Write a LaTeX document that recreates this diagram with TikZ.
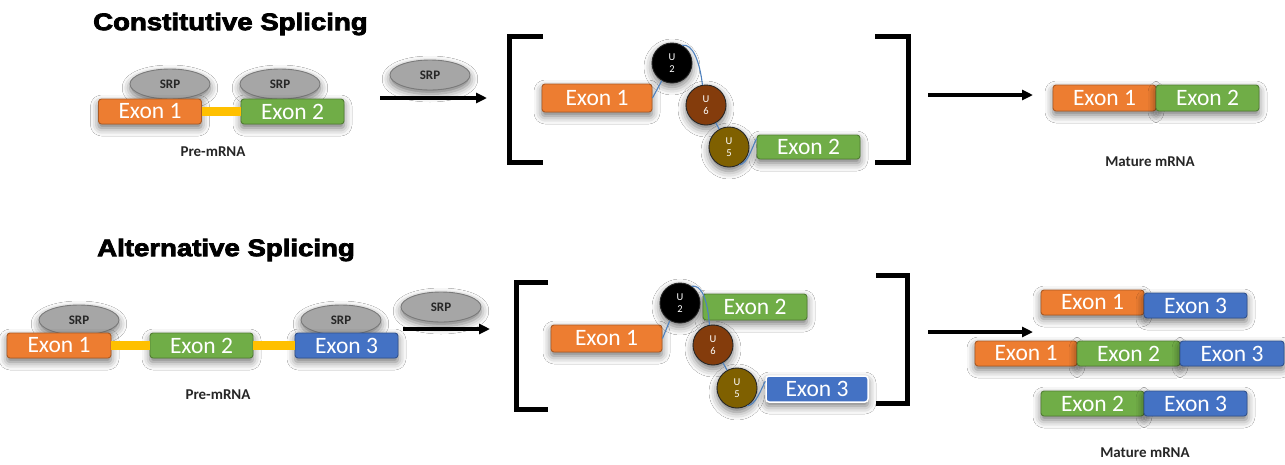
\documentclass[tikz,border=0pt]{standalone}
\usepackage{graphicx}
\usepackage{fontspec}
\setmainfont{Carlito}
\newfontfamily\titlefont{Liberation Sans Bold}[FakeBold=3]
\usetikzlibrary{shapes.geometric,arrows.meta,shadows.blur}
\definecolor{exorange}{HTML}{ED7D31}
\definecolor{exgreen}{HTML}{70AD47}
\definecolor{exblue}{HTML}{4472C4}
\definecolor{exyellow}{HTML}{FFC000}
\definecolor{srpfill}{HTML}{A6A6A6}
\definecolor{srpborder}{HTML}{7A7A7A}
\definecolor{usixbrown}{HTML}{843C0C}
\definecolor{ufiveolive}{HTML}{7F6000}
\definecolor{linkblue}{HTML}{4F81BD}
\tikzset{
  softshadow/.style={blur shadow={shadow xshift=0pt,shadow yshift=-4pt,shadow blur radius=8pt,shadow opacity=55}},
  exon/.style={rectangle, rounded corners=3pt, draw=#1!72!black, fill=#1, line width=0.9pt,
    text=white, font=\fontsize{23.5}{23.5}\selectfont, inner sep=0pt,
    minimum height=25pt, minimum width=103pt, softshadow},
  srp/.style={ellipse, draw=srpborder, fill=srpfill, line width=0.9pt, minimum width=80pt,
    minimum height=30pt, inner sep=0pt, text=black!85, font=\bfseries\fontsize{13}{13}\selectfont, softshadow},
  snrna/.style={circle, draw=black!85, fill=#1, line width=0.9pt, minimum size=40pt, inner sep=0pt,
    text=white, font=\fontsize{10.5}{12}\selectfont, align=center, softshadow},
  ylink/.style={draw=exyellow, line width=9pt},
  blink/.style={draw=linkblue, line width=1.1pt},
  bracketline/.style={draw=black, line width=5pt},
  arr/.style={draw=black, line width=3.2pt, -{Triangle[length=11pt,width=10pt]}},
  rnalabel/.style={font=\bfseries\fontsize{15}{15}\selectfont, text=black!85},
  headline/.style={font=\titlefont\fontsize{24}{24}\selectfont, text=black, anchor=west, inner sep=0pt}
}
\begin{document}
\begin{tikzpicture}[x=1pt,y=-1pt]
\useasboundingbox (0,0) rectangle (1285,464);
\fill[white] (0,0) rectangle (1285,464);

% ---------- titles ----------
\node[headline] (t1) at (93,24) {\scalebox{1.15}[1]{Constitutive Splicing}};
\node[headline] (t2) at (97,250) {\scalebox{1.15}[1]{Alternative Splicing}};

% ---------- constitutive: pre-mRNA ----------
\node[srp] (s1) at (170,84) {SRP};
\node[srp] (s2) at (280,84) {SRP};
\node[exon=exorange] (e1) at (150,111.5) {Exon 1};
\node[exon=exgreen] (e2) at (292.5,111.5) {Exon 2};
\draw[ylink] (e1.east) -- (e2.west);
\node[rnalabel] (pre1) at (213,152) {Pre-mRNA};

\node[srp] (s3) at (430,75) {SRP};
\coordinate (a1s) at (380,98);
\coordinate (a1e) at (487,98);
\draw[arr] (a1s) -- (a1e);

% brackets top
\draw[bracketline] (543,36.5) -- (509.5,36.5) -- (509.5,162.5) -- (543,162.5);
\draw[bracketline] (875,36) -- (908,36) -- (908,162.5) -- (875,162.5);

% spliceosome top
\node[exon=exorange, minimum width=110pt, minimum height=28pt] (c1e1) at (597,98) {Exon 1};
\node[snrna=black] (c1u2) at (672,63) {U\\2};
\node[snrna=usixbrown] (c1u6) at (706,105) {U\\6};
\node[snrna=ufiveolive] (c1u5) at (729,147) {U\\5};
\node[exon=exgreen, minimum height=24pt] (c1e2) at (808.5,147) {Exon 2};
\draw[blink] (c1e1.east) -- (c1u2.240);
\draw[blink] (c1u2.60) .. controls +(10,-2) and +(-3,-25) .. (c1u6.100);
\draw[blink] (c1u6) -- (c1u5);
\draw[blink] (c1u5.-60) .. controls +(8,0) and +(-4,8) .. ([yshift=-4pt]c1e2.north west);

\coordinate (a2s) at (928,95);
\coordinate (a2e) at (1033,95);
\draw[arr] (a2s) -- (a2e);

% mature top
\node[exon=exorange, minimum height=26pt] (m1) at (1104.5,98) {Exon 1};
\node[exon=exgreen, minimum height=26pt] (m2) at (1207.5,98) {Exon 2};
\node[rnalabel] (mat1) at (1150,162) {Mature mRNA};

% ---------- alternative: pre-mRNA ----------
\node[srp] (s4) at (79,320) {SRP};
\node[srp] (s5) at (341,320) {SRP};
\node[exon=exorange, minimum width=104pt] (f1) at (59,345.5) {Exon 1};
\node[exon=exgreen] (f2) at (201.5,345.5) {Exon 2};
\node[exon=exblue] (f3) at (346.5,345.5) {Exon 3};
\draw[ylink] (f1.east) -- (f2.west);
\draw[ylink] (f2.east) -- (f3.west);
\node[rnalabel] (pre2) at (218,395) {Pre-mRNA};

\node[srp] (s6) at (441,307) {SRP};
\coordinate (b1s) at (403,329);
\coordinate (b1e) at (490,329);
\draw[arr] (b1s) -- (b1e);

% brackets bottom
\draw[bracketline] (548,282.5) -- (516,282.5) -- (516,409.5) -- (548,409.5);
\draw[bracketline] (876,275) -- (907,275) -- (907,403) -- (876,403);

% spliceosome bottom
\node[exon=exorange, minimum width=111pt, minimum height=27pt] (c2e1) at (606.5,338.5) {Exon 1};
\node[snrna=black] (c2u2) at (680,303) {U\\2};
\node[exon=exgreen, minimum width=104pt, minimum height=26pt] (c2e2) at (755,307) {Exon 2};
\node[snrna=usixbrown] (c2u6) at (713,345) {U\\6};
\node[snrna=ufiveolive] (c2u5) at (737,388) {U\\5};
\node[exon=exblue, draw=white, line width=1.5pt, minimum width=102pt, minimum height=26pt] (c2e3) at (817,389) {Exon 3};
\draw[blink] (c2e1.east) -- (c2u2.240);
\draw[blink] (c2u2.55) .. controls +(10,-2) and +(-2,-25) .. (c2u6.100);
\draw[blink] (c2u6) -- (c2u5);
\draw[blink] (c2u5.-60) .. controls +(8,0) and +(-4,8) .. ([yshift=-6pt]c2e3.north west);

\coordinate (b2s) at (928,332);
\coordinate (b2e) at (1033,332);
\draw[arr] (b2s) -- (b2e);

% mature bottom
\node[exon=exorange] (n1) at (1092.5,302.5) {Exon 1};
\node[exon=exblue] (n2) at (1195.5,305.5) {Exon 3};
\node[exon=exorange, minimum width=102pt] (n3) at (1026,353.5) {Exon 1};
\node[exon=exgreen] (n4) at (1128.5,353.5) {Exon 2};
\node[exon=exblue, minimum width=104pt] (n5) at (1232,353.5) {Exon 3};
\node[exon=exgreen] (n6) at (1092.5,403.5) {Exon 2};
\node[exon=exblue] (n7) at (1195.5,403.5) {Exon 3};
\node[rnalabel] (mat2) at (1145,453) {Mature mRNA};
\end{tikzpicture}
\end{document}
